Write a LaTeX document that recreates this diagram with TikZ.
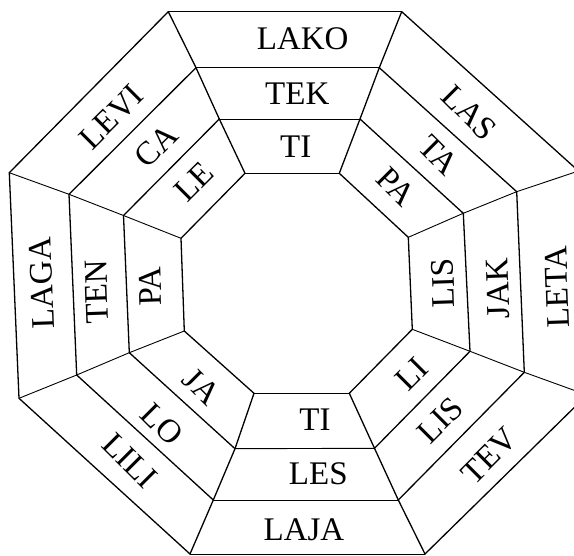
\documentclass[tikz,border=0pt]{standalone}
\usepackage{fontspec}
\setmainfont{Liberation Serif}
\begin{document}
\begin{tikzpicture}[x=1pt,y=-1pt,
  thick edge/.style={line width=1.3pt, line cap=round, line join=round},
  thin edge/.style={line width=0.9pt, line cap=round},
  lbl/.style={font=\fontsize{33}{38}\selectfont, inner sep=0pt}]
\useasboundingbox (0,0) rectangle (574,556);
\fill[white] (0,0) rectangle (574,556);
\clip (0,0) rectangle (574,556);
% ring 0 (innermost)
\coordinate (r0-1) at (245,173.3);
\coordinate (r0-2) at (339.3,173.3);
\coordinate (r0-3) at (408.3,237.3);
\coordinate (r0-4) at (412.3,329.3);
\coordinate (r0-5) at (349.3,393.3);
\coordinate (r0-6) at (254,393.3);
\coordinate (r0-7) at (184.3,331);
\coordinate (r0-8) at (181,238.3);
% ring 1
\coordinate (r1-1) at (219.3,119);
\coordinate (r1-2) at (360,119);
\coordinate (r1-3) at (463.3,213.3);
\coordinate (r1-4) at (470,351.3);
\coordinate (r1-5) at (374.5,448.3);
\coordinate (r1-6) at (235,448.7);
\coordinate (r1-7) at (129.3,352.7);
\coordinate (r1-8) at (123.5,215.5);
% ring 2
\coordinate (r2-1) at (196,67.7);
\coordinate (r2-2) at (379.3,67.7);
\coordinate (r2-3) at (516.7,191.7);
\coordinate (r2-4) at (524.3,372.3);
\coordinate (r2-5) at (398.3,500);
\coordinate (r2-6) at (213.3,500);
\coordinate (r2-7) at (76.7,375);
\coordinate (r2-8) at (69,194.3);
% ring 3 (outer)
\coordinate (r3-1) at (168.3,11.7);
\coordinate (r3-2) at (401.7,11.7);
\coordinate (r3-3) at (578.5,171);
\coordinate (r3-4) at (587,395);
\coordinate (r3-5) at (425,554);
\coordinate (r3-6) at (190,554);
\coordinate (r3-7) at (19,398.3);
\coordinate (r3-8) at (9.3,172.7);
% ring edges
\foreach \r in {0,1,2,3}{
  \draw[thin edge] (r\r-1) -- (r\r-2);
  \draw[thin edge] (r\r-5) -- (r\r-6);
  \draw[thick edge] (r\r-2) -- (r\r-3) -- (r\r-4) -- (r\r-5);
  \draw[thick edge] (r\r-6) -- (r\r-7) -- (r\r-8) -- (r\r-1);
}
% spokes
\foreach \k in {1,2,5,6}{
  \draw[thick edge] (r0-\k) -- (r1-\k) -- (r2-\k) -- (r3-\k);
}
\foreach \k in {3,4,7,8}{
  \draw[thin edge] (r0-\k) -- (r1-\k) -- (r2-\k) -- (r3-\k);
}
% top
\node[lbl] (lako) at (302.7,38.5) {LAKO};
\node[lbl] (tek) at (297.3,94) {TEK};
\node[lbl] (tit) at (295.7,146.7) {TI};
% bottom
\node[lbl] (tib) at (315,420) {TI};
\node[lbl] (les) at (318.3,473.3) {LES};
\node[lbl] (laja) at (304,530) {LAJA};
% left
\node[lbl,rotate=92] (laga) at (41.7,283.3) {LAGA};
\node[lbl,rotate=92] (ten) at (96.7,291.7) {TEN};
\node[lbl,rotate=92] (pal) at (150,286.7) {PA};
% right
\node[lbl,rotate=92] (lisr) at (443.3,283.5) {LIS};
\node[lbl,rotate=92] (jak) at (498,288.5) {JAK};
\node[lbl,rotate=92] (leta) at (557,287) {LETA};
% upper left
\node[lbl,rotate=45] (levi) at (111.7,117) {LEVI};
\node[lbl,rotate=45] (ca) at (156.5,146) {CA};
\node[lbl,rotate=45] (le) at (194,182) {LE};
% upper right
\node[lbl,rotate=-45] (las) at (469.5,112.5) {LAS};
\node[lbl,rotate=-45] (ta) at (438.5,155.5) {TA};
\node[lbl,rotate=-45] (paur) at (396,186.5) {PA};
% lower right
\node[lbl,rotate=45] (li) at (411.8,374) {LI};
\node[lbl,rotate=45] (lislr) at (440.5,420) {LIS};
\node[lbl,rotate=45] (tev) at (489.5,456) {TEV};
% lower left
\node[lbl,rotate=-45] (ja) at (201.5,386.6) {JA};
\node[lbl,rotate=-45] (lo) at (162,424.4) {LO};
\node[lbl,rotate=-45] (lili) at (130,460.5) {LILI};
\end{tikzpicture}
\end{document}
